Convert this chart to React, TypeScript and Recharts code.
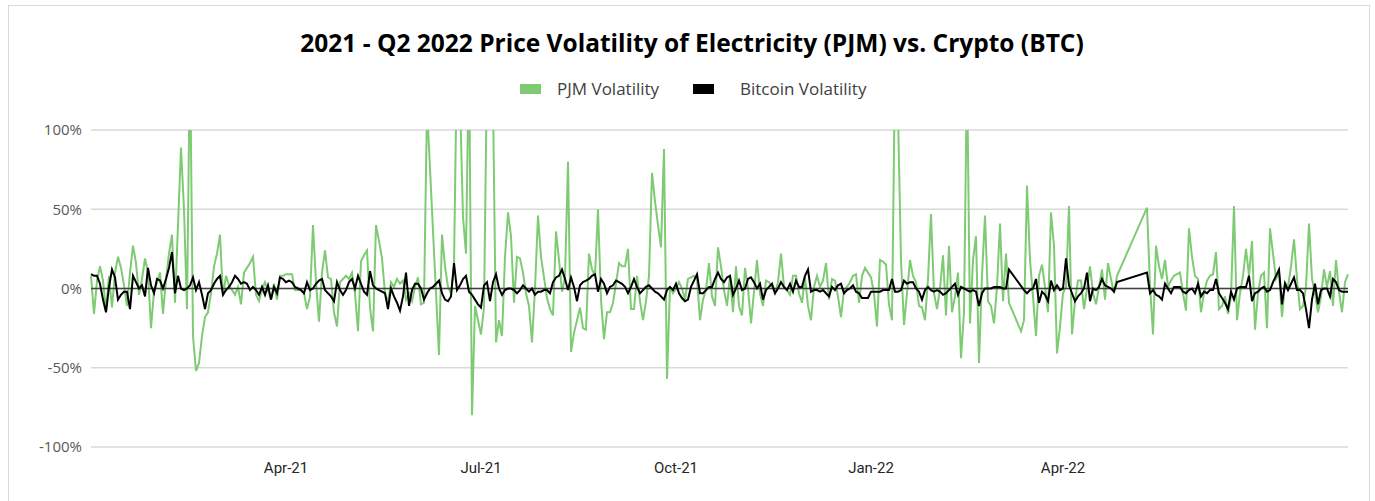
import React from 'react';
import { LineChart, Line, XAxis, YAxis, CartesianGrid, ReferenceLine } from 'recharts';

// daily volatility in %, one value per trading session (null = no session data)
const pjmJanMar21 = [
  8, -16, 5, 14, 5, -14, 8, -12, 10, 20, 13, 2, -11, 10, 27, 16, -4, 6, 19, 10, -25, -2, 4, 10, -16,
  6, 22, 34, -9, 40, 89, 50, -13, 150, -30, -52, -47, -30, -18, -15, -3, 14, 22, 34,
  -5, 8, 2, -1, -4, 1, -10, 10, 13, 16, 20, -4, -8, -1, 4, -1, -7, 3, -7, 8, 8, 9,
];
const pjmAprJun21 = [
  9, 9, -1, -1, -1, -3, -13, -5, 40, 4, -21, 10, 24, 7, 6, -15, -24, 4, 6, 8, 6,
  10, -3, -27, 17, 21, 24, -12, -27, 40, 30, 19, -3, -9, 4, 1, 6, 3, 5, -7, -3, -8, 1,
  7, -10, -9, 115, null, null, null, -42, 34, 14, 1, -3, 14, 150, 120, 45, 22, 150, -80, -11, -20,
];
const pjmJulSep21 = [
  -29, -12, 140, 135, 120, -34, -20, -30, 20, 48, 33, -9, 20, 19, 10, -3, -11, -34, 0, 46, 20, 7,
  -6, -13, -17, 36, 18, -2, 7, 80, -40, -28, -20, -12, -25, -26, 22, 12, 8, 50, -7, -32, -15, -15,
  -9, 3, 16, 14, 14, 25, -13, -13, 8, -8, -20, -8, 8, 73, 55, 40, 26, 88, -57, 1, -3, 0,
];
const pjmOctDec21 = [
  4, 0, -7, 6, 7, 8, 6, -20, -7, -1, 16, -5, -11, 26, 14, -1, -11, 8, -15, 14, -11, -17,
  13, 0, -22, -2, 18, -3, -11, 5, 4, 1, -3, 4, 22, 1, -1, -4, 8, 8, -3, -9, 7, -11,
  -20, 1, 8, 1, 5, 16, -7, 6, 5, -5, -18, -1, 1, 4, 8, 9, -9, 8, 13, 10, 7,
];
const pjmJanApr22 = [
  -3, -24, 18, 17, 15, -10, -20, 140, 110, 18, -23, -3, 18, 8, 4, -11, -12, -20, 6, 47, -3, -13,
  0, 21, -17, 27, -15, -5, 10, -44, -15, 140, -22, 18, 33, -47, 8, 46, -8, -11, -22, 1, 41, -8, 22, -9,
  null, null, null,
  -27, -20, 65, 18, -5, -30, 8, 15, 1, -15, 48, 27, -41, -24, -3, 1, 52, -29, -8, 5, 5, -13, 0, 14,
  -3, -10, 1, 12, -7, 16, 6, -3, 8,
];
const pjmMayAug22 = [
  null, null, null, null, null, null, null, null, null,
  51, 2, -29, 27, 14, 6, 18, 1, 5, 8, 9, 10, -3, -14, 38, 20, 8, 6, -15, -3, 5, 8, 9, 23, -13, -11,
  -5, -16, -5, 52, -20, -3, 8, 25, 8, 30, -26, -3, 8, 10, -25, 38, 22, 6, 10, -18, 4, 1, 14, 31, 6,
  -13, -11, 1, 41, 6, -3, -15, -5, 12, 1, 11, -11, 18, -2, -15, 4, 9,
];

const btcJanMar21 = [
  9, 8, 8, 3, -7, -15, 1, 12, 7, -7, -4, -2, -2, -13, 8, 4, 0, 2, -5, 13, 2, -3, 6, 5, 0,
  6, 13, 23, -3, 8, 0, -1, 0, 2, 7, -1, 4, -4, -13, -3, -1, 3, 6, 8,
  -4, -1, 1, 4, 8, 6, 3, 4, 3, -1, 1, -1, -4, 1, -4, 2, -7, 1, -3, 7, 6, 4,
];
const btcAprJun21 = [
  5, 4, 1, 0, -1, -3, 4, -1, 0, 3, 5, 6, -1, -3, -5, -8, 4, -1, -4, -1, 4, 6,
  0, 8, 3, -2, -4, 11, 2, 0, -1, -2, -3, -13, 0, -5, -9, -14, -5, 10, -11, -1, 3,
  3, 0, -7, -3, 0, 1, 3, 5, -3, -7, -8, -5, 16, -1, 2, 6, 8, -2, -4, -7, -10,
];
const btcJulSep21 = [
  -12, 2, 4, -8, 4, 9, 0, -4, -1, 0, 0, -1, -3, -1, 2, 0, -2, 0, -4, -2, -2, -1,
  -1, -3, 4, 7, 8, 12, 6, -1, 7, 1, -8, 2, 4, 5, 6, 8, 9, -2, 6, 3, -3, 1,
  2, 5, 4, 3, 1, -3, 1, 6, 1, -3, -1, 1, 2, 0, -2, -3, -5, -7, -1, 1, -1, 3,
];
const btcOctDec21 = [
  -3, -6, -8, -7, 1, 5, 9, -3, -3, -1, 1, 1, 6, 10, 6, 4, 7, 8, -4, 0, 5, -1,
  0, 6, 7, 4, 0, 3, -7, -1, 1, 3, -3, 0, 4, 1, -1, 3, -2, 5, 1, 1, 8, 12,
  -2, -1, -1, -2, -1, -3, -5, 1, -1, 2, 3, -3, -1, 0, 2, -2, -3, -6, -6, -6, -2,
];
const btcJanApr22 = [
  -2, -2, -2, -1, -1, -1, 6, -2, -2, -1, 5, 3, 4, 4, 0, -2, -7, -1, 1, -1, -2, -1,
  -2, -4, -3, -1, 1, 3, -4, 1, 0, -1, -2, -1, -2, -11, -3, 0, 0, 0, 1, 1, 1, 0, 0, 12,
  null, null, null, null,
  -1, -3, -1, 0, 6, -9, -2, -4, -8, 5, -1, 2, -1, 0, 19, 2, -3, -8, -5, -3, 0, 10, -8, 0,
  -1, 1, 6, 2, 1, 0, -2, 4,
];
const btcMayAug22 = [
  null, null, null, null, null, null, null, null, null,
  10, -3, -1, -4, -5, -7, 3, 0, -3, 1, 1, 1, -2, -3, -1, 0, -3, 3, -5, -2, -3, -1, -1, 6, -3, -6,
  -9, -13, -2, -7, 0, 1, 1, 1, 8, -8, -3, -2, 0, 1, -2, -1, 4, 8, 12, -10, 3, -1, 3, 7, -1,
  -1, -3, -13, -25, -7, 3, -10, -1, 0, 0, -5, 6, 4, -1, -2, -2, -2,
];

// first session of each labelled quarter
const quarterLabels = ['Apr-21', 'Jul-21', 'Oct-21', 'Jan-22', 'Apr-22'];
const quarterStart = [65, 130, 195, 260, 324];

const yTicks = [-100, -50, 0, 50, 100];

const pjm = [...pjmJanMar21, ...pjmAprJun21, ...pjmJulSep21, ...pjmOctDec21, ...pjmJanApr22, ...pjmMayAug22];
const btc = [...btcJanMar21, ...btcAprJun21, ...btcJulSep21, ...btcOctDec21, ...btcJanApr22, ...btcMayAug22];
const data = pjm.map((v, i) => ({ i, pjm: v, btc: btc[i] }));

const GREEN = '#7ecb74';
const FONT = '"Open Sans", Lato, sans-serif';

export default function App() {
  const yTickStyle = { fill: '#595959', fontSize: 15, fontFamily: FONT };
  const xTickStyle = { fill: '#262626', fontSize: 15, fontFamily: 'Roboto, sans-serif' };
  const legendText = { position: 'absolute' as const, top: 79, fontFamily: FONT, fontSize: 17, color: '#404040', lineHeight: '20px' };
  return (
    <div style={{ position: 'absolute', left: 0, top: 0, width: 1375, height: 501, background: '#fff', overflow: 'hidden' }}>
      <div style={{ position: 'absolute', left: 8, top: 5, width: 1362, height: 520, border: '1.5px solid #d9d9d9', boxSizing: 'border-box' }} />
      <div style={{ position: 'absolute', left: 0, width: 1384, top: 26, textAlign: 'center', fontFamily: FONT, fontWeight: 700, fontSize: 24.5, color: '#000' }}>
        2021 - Q2 2022 Price Volatility of Electricity (PJM) vs. Crypto (BTC)
      </div>
      <div style={{ position: 'absolute', left: 520, top: 84, width: 21, height: 10, background: GREEN }} />
      <div style={{ ...legendText, left: 557 }}>PJM Volatility</div>
      <div style={{ position: 'absolute', left: 693, top: 84, width: 21, height: 10, background: '#000' }} />
      <div style={{ ...legendText, left: 740 }}>Bitcoin Volatility</div>
      <div style={{ position: 'absolute', left: 0, top: 0 }}>
        <LineChart width={1375} height={501} data={data} margin={{ top: 130, right: 27, bottom: 24, left: 0 }}>
          <CartesianGrid vertical={false} stroke="#d9d9d9" strokeWidth={1.5} />
          <XAxis
            dataKey="i"
            type="number"
            domain={[0, pjm.length - 1]}
            ticks={quarterStart}
            tickFormatter={(v) => quarterLabels[quarterStart.indexOf(v)] ?? ''}
            axisLine={false}
            tickLine={false}
            tickSize={0}
            tickMargin={15}
            height={30}
            tick={xTickStyle}
            interval={0}
          />
          <YAxis
            domain={[-100, 100]}
            ticks={yTicks}
            allowDataOverflow
            tickFormatter={(v) => `${v}%`}
            axisLine={false}
            tickLine={false}
            tickSize={0}
            tickMargin={9}
            width={91}
            tick={yTickStyle}
          />
          <Line type="linear" dataKey="pjm" stroke={GREEN} strokeWidth={2} dot={false} connectNulls isAnimationActive={false} />
          <ReferenceLine y={0} stroke="#404040" strokeWidth={1.5} />
          <Line type="linear" dataKey="btc" stroke="#000" strokeWidth={2} dot={false} connectNulls isAnimationActive={false} />
        </LineChart>
      </div>
    </div>
  );
}
